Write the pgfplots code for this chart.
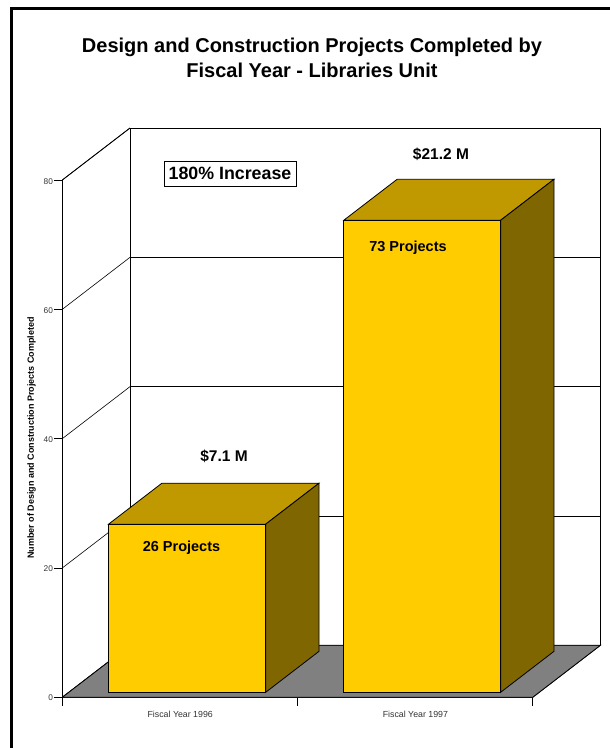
\documentclass[border=0pt]{standalone}
\usepackage{pgfplots}
\pgfplotsset{compat=1.18}
\usepackage{fontspec}
\setmainfont{Liberation Sans}
\definecolor{barfront}{RGB}{255,204,0}
\definecolor{bartop}{RGB}{192,153,0}
\definecolor{barside}{RGB}{128,102,0}
\definecolor{floorgray}{RGB}{128,128,128}
\begin{document}
\begin{tikzpicture}[x=1pt,y=1pt]
\path[use as bounding box] (0,0) rectangle (610,748);
\fill[black] (10,0) rectangle (13,741);
\fill[black] (10,738) rectangle (610,741);
\begin{axis}[
  at={(62.3pt,50.7pt)}, anchor=south west,
  x={(235.2pt,0pt)}, y={(67.7pt,52pt)}, z={(0pt,6.466pt)},
  xmin=0,xmax=2,ymin=0,ymax=1,zmin=0,zmax=80,
  ytick=\empty,
  ztick={0,20,40,60,80},
  xtick={0.5,1.5},
  xticklabels={Fiscal Year 1996,Fiscal Year 1997},
  zmajorgrids=true,
  major grid style={black,line width=0.6pt},
  axis line style={black,line width=0.8pt},
  tick style={draw=none},
  major tick length=8pt,
  tick align=outside,
  tick pos=left,
  tick label style={font=\fontsize{8.8}{9}\selectfont,text=black!80},
  zticklabel style={yshift=6.5pt,xshift=0.5pt,font=\fontsize{8.3}{9}\selectfont},
  xticklabel style={yshift=-5pt,xshift=10pt},
  /pgf/number format/assume math mode=true,
  clip=false,
]
% tick marks
\addplot3[black,line width=0.8pt] coordinates {(0,0,0)(0,0,-1.35)};
\addplot3[black,line width=0.8pt] coordinates {(1,0,0)(1,0,-1.35)};
\addplot3[black,line width=0.8pt] coordinates {(2,0,0)(2,0,-1.35)};
\addplot3[black,line width=0.8pt] coordinates {(0,0,0)(-0.034,0,0)};
\addplot3[black,line width=0.8pt] coordinates {(0,0,20)(-0.034,0,20)};
\addplot3[black,line width=0.8pt] coordinates {(0,0,40)(-0.034,0,40)};
\addplot3[black,line width=0.8pt] coordinates {(0,0,60)(-0.034,0,60)};
\addplot3[black,line width=0.8pt] coordinates {(0,0,80)(-0.034,0,80)};
% floor
\addplot3[draw=black,line width=0.8pt,fill=floorgray] coordinates {(0,0,0)(2,0,0)(2,1,0)(0,1,0)} --cycle;
% bar 1 : 26 projects
\addplot3[draw=black,line width=0.8pt,fill=bartop] coordinates {(0.169,0.096,26)(0.837,0.096,26)(0.837,0.885,26)(0.169,0.885,26)} --cycle;
\addplot3[draw=black,line width=0.8pt,fill=barside] coordinates {(0.837,0.096,0)(0.837,0.885,0)(0.837,0.885,26)(0.837,0.096,26)} --cycle;
\addplot3[draw=black,line width=0.8pt,fill=barfront] coordinates {(0.169,0.096,0)(0.837,0.096,0)(0.837,0.096,26)(0.169,0.096,26)} --cycle;
% bar 2 : 73 projects
\addplot3[draw=black,line width=0.8pt,fill=bartop] coordinates {(1.169,0.096,73)(1.836,0.096,73)(1.836,0.885,73)(1.169,0.885,73)} --cycle;
\addplot3[draw=black,line width=0.8pt,fill=barside] coordinates {(1.836,0.096,0)(1.836,0.885,0)(1.836,0.885,73)(1.836,0.096,73)} --cycle;
\addplot3[draw=black,line width=0.8pt,fill=barfront] coordinates {(1.169,0.096,0)(1.836,0.096,0)(1.836,0.096,73)(1.169,0.096,73)} --cycle;
\end{axis}
\node[align=center,font=\fontsize{20}{25.5}\selectfont\bfseries] at (312,690) {Design and Construction Projects Completed by\\Fiscal Year - Libraries Unit};
\node[draw=black,line width=0.6pt,inner sep=0pt,minimum width=132pt,minimum height=25pt,font=\fontsize{17.8}{18}\selectfont\bfseries] at (230,574.5) {180\% Increase};
\node[font=\fontsize{15.5}{16}\selectfont\bfseries] at (224,292) {\$7.1 M};
\node[font=\fontsize{15.5}{16}\selectfont\bfseries] at (441,594) {\$21.2 M};
\node[font=\fontsize{14.5}{16}\selectfont\bfseries] at (181.5,200.5) {26 Projects};
\node[font=\fontsize{14.5}{16}\selectfont\bfseries] at (408,500.5) {73 Projects};
\node[rotate=90,font=\fontsize{9}{10}\selectfont\bfseries] at (31.5,310) {Number of Design and Construction Projects Completed};
\end{tikzpicture}
\end{document}
